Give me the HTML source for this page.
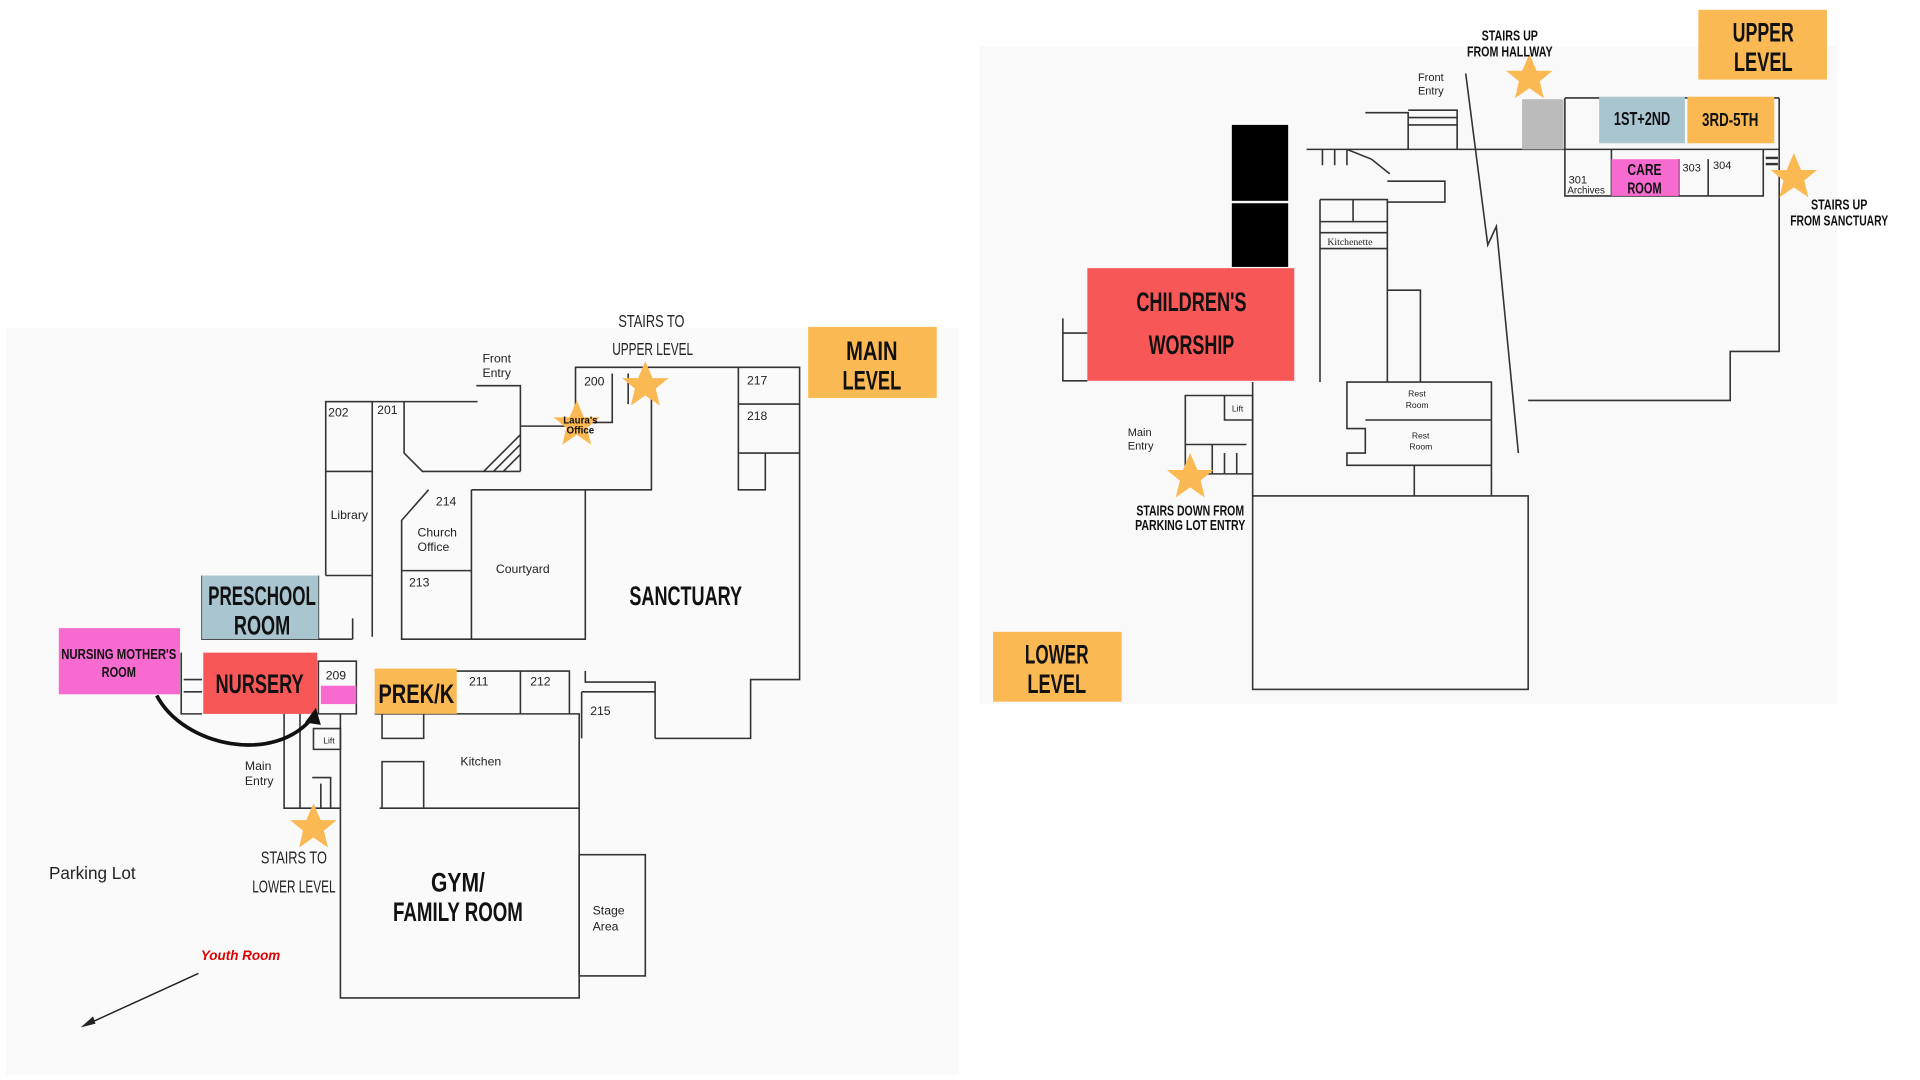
<!DOCTYPE html>
<html><head><meta charset="utf-8"><style>
html,body{margin:0;padding:0;background:#fff;width:1920px;height:1080px;overflow:hidden}
svg{display:block}
.b{font-family:"Liberation Sans",sans-serif;font-weight:bold;fill:#111}
.n{font-family:"Liberation Sans",sans-serif;fill:#222}
</style></head><body>
<svg width="1920" height="1080" viewBox="0 0 1568 882" preserveAspectRatio="none" xmlns="http://www.w3.org/2000/svg">
<defs><path id="st" d="M0,-20 L5.9,-6.2 L19,-6.2 L8.5,2.4 L11.8,16.2 L0,8 L-11.8,16.2 L-8.5,2.4 L-19,-6.2 L-5.9,-6.2Z" fill="#fbb954"/></defs>
<rect x="5" y="268" width="778" height="610" fill="#fafafa"/>
<rect x="800" y="38" width="700" height="537" fill="#f9f9fa"/>
<g stroke="#333" stroke-width="1.3" fill="none">
<rect x="266" y="328" width="38" height="57"/>
<path d="M304,328 H390 M330,328 V370 L345,385 H425 M389,315 H425 V385 M395,385 L425,355 M403,385 L425,363 M411,385 L425,371"/>
<path d="M425,348 H470 V300 H653 V555 H613 V603 H535 M470,300 V345 H500 V305 M513,305 V330"/>
<path d="M532,320 V400 H385 M603,300 V370 H653 M603,330 H653 M603,370 V400 H625 V370"/>
<path d="M350,400 L328,425 V522 H478 V400 M385,400 V522 M328,466 H385"/>
<path d="M266,385 V470 M304,385 V520 M266,470 H304 M165,470 V522 H288 M260,470 V522 M288,505 V522"/>
<path d="M148,533 V583 H165 M260,540 H291 V583 H260 Z M150,555 H165 M150,565 H165"/>
<path d="M306,548 H465 V583 M425,548 V583 M478,548 V557 H535 V603 M475,565 H535 M475,565 V603 M306,583 H473 V815 H278 V583"/>
<path d="M310,660 H473 M312,583 V603 H346 V583 M312,622 H346 V660 H312 Z"/>
<rect x="473" y="698" width="54" height="99"/>
<path d="M232,583 V660 H278 M245,583 V660 M256,595 H278 V612 H256 Z M255,635 H270 V660 M262,640 V660"/>
<rect x="1023" y="405" width="225" height="158"/>
<path d="M1100,312 H1218 V380 H1100 V370 H1115 V350 H1100 Z M1115,343 H1218 M1155,380 V405 M1023,405 V312 M1218,312 V405"/>
<path d="M968,323 H1023 V387 H968 Z M1000,323 V343 H1023 M968,363 H1018 M990,363 V387 M1000,370 V387 M1010,370 V387"/>
<path d="M868,260 V311 H888 M868,272 H888"/>
<path d="M1067,122 H1453 M1150,90 H1190 V122 M1150,96 H1190 M1150,102 H1190 M1115,92 H1150 V122 M1080,122 V135 M1090,122 V135 M1100,122 V135"/>
<path d="M1078,163 H1133 V312 M1078,163 V312 M1078,181 H1133 M1078,190 H1133 M1078,203 H1133 M1105,163 V181 M1133,237 H1160 V312 M1133,148 H1180 V165 H1133"/>
<path d="M1100,122 L1120,130 L1135,142"/>
<path d="M1453,80 V287 H1413 V327 H1248 M1278,80 H1453 M1278,80 V160 H1440 V122 M1316,122 V160 M1371,130 V160 M1395,130 V160"/>
<path d="M1197,60 L1215,200 L1222,185 L1240,370"/>
</g>
<rect x="1243" y="81" width="34" height="41" fill="#bbb"/>
<rect x="1006" y="102" width="46" height="62" fill="#000"/>
<rect x="1006" y="166" width="46" height="52" fill="#000"/>
<rect x="1442" y="128" width="10" height="2" fill="#333"/><rect x="1442" y="133" width="10" height="2" fill="#333"/>
<rect x="660" y="267" width="105" height="58" fill="#fbb954"/>
<text class="b" x="712" y="294" text-anchor="middle" font-size="22" textLength="42" lengthAdjust="spacingAndGlyphs">MAIN</text>
<text class="b" x="712" y="318" text-anchor="middle" font-size="22" textLength="48" lengthAdjust="spacingAndGlyphs">LEVEL</text>
<rect x="165" y="470" width="95" height="52" fill="#a9c5cf"/>
<text class="b" x="214" y="494" text-anchor="middle" font-size="22" textLength="88" lengthAdjust="spacingAndGlyphs">PRESCHOOL</text>
<text class="b" x="214" y="518" text-anchor="middle" font-size="22" textLength="46" lengthAdjust="spacingAndGlyphs">ROOM</text>
<rect x="48" y="513" width="99" height="54" fill="#f76bd0"/>
<text class="b" x="97" y="538" text-anchor="middle" font-size="12" textLength="94" lengthAdjust="spacingAndGlyphs">NURSING MOTHER'S</text>
<text class="b" x="97" y="553" text-anchor="middle" font-size="12" textLength="28" lengthAdjust="spacingAndGlyphs">ROOM</text>
<rect x="166" y="533" width="93" height="50" fill="#f75757"/>
<text class="b" x="212" y="566" text-anchor="middle" font-size="22" textLength="72" lengthAdjust="spacingAndGlyphs">NURSERY</text>
<rect x="262" y="560" width="29" height="15" fill="#f76bd0"/>
<rect x="306" y="546" width="67" height="37" fill="#fbb954"/>
<text class="b" x="340" y="574" text-anchor="middle" font-size="22" textLength="62" lengthAdjust="spacingAndGlyphs">PREK/K</text>
<text class="b" x="560" y="494" text-anchor="middle" font-size="22" textLength="92" lengthAdjust="spacingAndGlyphs">SANCTUARY</text>
<text class="b" x="374" y="728" text-anchor="middle" font-size="22" textLength="44" lengthAdjust="spacingAndGlyphs">GYM/</text>
<text class="b" x="374" y="752" text-anchor="middle" font-size="22" textLength="106" lengthAdjust="spacingAndGlyphs">FAMILY ROOM</text>
<rect x="888" y="219" width="169" height="92" fill="#f75757"/>
<text class="b" x="973" y="254" text-anchor="middle" font-size="22" textLength="90" lengthAdjust="spacingAndGlyphs">CHILDREN'S</text>
<text class="b" x="973" y="289" text-anchor="middle" font-size="22" textLength="70" lengthAdjust="spacingAndGlyphs">WORSHIP</text>
<rect x="1387" y="8" width="105" height="57" fill="#fbb954"/>
<text class="b" x="1440" y="34" text-anchor="middle" font-size="22" textLength="50" lengthAdjust="spacingAndGlyphs">UPPER</text>
<text class="b" x="1440" y="58" text-anchor="middle" font-size="22" textLength="48" lengthAdjust="spacingAndGlyphs">LEVEL</text>
<rect x="1306" y="79" width="70" height="38" fill="#a9c5cf"/>
<text class="b" x="1341" y="102" text-anchor="middle" font-size="15" textLength="46" lengthAdjust="spacingAndGlyphs">1ST+2ND</text>
<rect x="1378" y="79" width="71" height="38" fill="#fbb954"/>
<text class="b" x="1413" y="103" text-anchor="middle" font-size="15" textLength="46" lengthAdjust="spacingAndGlyphs">3RD-5TH</text>
<rect x="1316" y="130" width="55" height="30" fill="#f76bd0"/>
<text class="b" x="1343" y="143" text-anchor="middle" font-size="13" textLength="28" lengthAdjust="spacingAndGlyphs">CARE</text>
<text class="b" x="1343" y="158" text-anchor="middle" font-size="13" textLength="28" lengthAdjust="spacingAndGlyphs">ROOM</text>
<rect x="811" y="516" width="105" height="57" fill="#fbb954"/>
<text class="b" x="863" y="542" text-anchor="middle" font-size="22" textLength="52" lengthAdjust="spacingAndGlyphs">LOWER</text>
<text class="b" x="863" y="566" text-anchor="middle" font-size="22" textLength="48" lengthAdjust="spacingAndGlyphs">LEVEL</text>
<use href="#st" x="527" y="315"/><use href="#st" x="471" y="347"/><use href="#st" x="256" y="676"/>
<use href="#st" x="1249" y="64"/><use href="#st" x="1465" y="145"/><use href="#st" x="972" y="390"/>
<text class="b" x="474" y="346" text-anchor="middle" font-size="8">Laura's</text>
<text class="b" x="474" y="354" text-anchor="middle" font-size="8">Office</text>
<g class="n" font-size="14" text-anchor="middle">
<text x="532" y="267" textLength="54" lengthAdjust="spacingAndGlyphs">STAIRS TO</text>
<text x="533" y="290" textLength="66" lengthAdjust="spacingAndGlyphs">UPPER LEVEL</text>
<text x="240" y="705" textLength="54" lengthAdjust="spacingAndGlyphs">STAIRS TO</text>
<text x="240" y="729" textLength="68" lengthAdjust="spacingAndGlyphs">LOWER LEVEL</text>
</g>
<g class="b" font-size="12" text-anchor="middle">
<text x="1233" y="33" textLength="46" lengthAdjust="spacingAndGlyphs">STAIRS UP</text>
<text x="1233" y="46" textLength="70" lengthAdjust="spacingAndGlyphs">FROM HALLWAY</text>
<text x="1502" y="171" textLength="46" lengthAdjust="spacingAndGlyphs">STAIRS UP</text>
<text x="1502" y="184" textLength="80" lengthAdjust="spacingAndGlyphs">FROM SANCTUARY</text>
<text x="972" y="421" textLength="88" lengthAdjust="spacingAndGlyphs">STAIRS DOWN FROM</text>
<text x="972" y="433" textLength="90" lengthAdjust="spacingAndGlyphs">PARKING LOT ENTRY</text>
</g>
<g class="n" font-size="10">
<text x="268" y="340">202</text><text x="308" y="338">201</text><text x="477" y="315">200</text>
<text x="610" y="314">217</text><text x="610" y="343">218</text>
<text x="394" y="296">Front</text><text x="394" y="308">Entry</text>
<text x="270" y="424">Library</text><text x="356" y="413">214</text>
<text x="341" y="438">Church</text><text x="341" y="450">Office</text><text x="334" y="479">213</text>
<text x="405" y="468">Courtyard</text>
<text x="266" y="555">209</text><text x="383" y="560">211</text><text x="433" y="560">212</text><text x="482" y="584">215</text>
<text x="376" y="625">Kitchen</text><text x="264" y="607" font-size="7">Lift</text>
<text x="200" y="629">Main</text><text x="200" y="641">Entry</text>
<text x="484" y="747">Stage</text><text x="484" y="760">Area</text>
<text x="40" y="718" font-size="14">Parking Lot</text>
<text x="921" y="356" font-size="9">Main</text><text x="921" y="367" font-size="9">Entry</text>
<text x="1158" y="66" font-size="9">Front</text><text x="1158" y="77" font-size="9">Entry</text>
<text x="1084" y="200" font-size="8" font-family="Liberation Serif,serif">Kitchenette</text>
<text x="1150" y="324" font-size="7">Rest</text><text x="1148" y="333" font-size="7">Room</text>
<text x="1153" y="358" font-size="7">Rest</text><text x="1151" y="367" font-size="7">Room</text>
<text x="1374" y="140" font-size="9">303</text><text x="1399" y="138" font-size="9">304</text>
<text x="1281" y="150" font-size="9">301</text><text x="1280" y="158" font-size="8">Archives</text>
<text x="1006" y="336" font-size="7">Lift</text>
</g>
<text x="164" y="784" font-family="Liberation Sans,sans-serif" font-size="11" font-weight="bold" font-style="italic" fill="#d00">Youth Room</text>
<path d="M162,795 L70,837" stroke="#222" stroke-width="1.2"/>
<path d="M66,839 L76,830 L78,836Z" fill="#222"/>
<path d="M128,568 C150,610 225,625 256,585" stroke="#111" stroke-width="3" fill="none"/>
<path d="M258,578 L249,590 L262,592Z" fill="#111"/>
</svg>
</body></html>
